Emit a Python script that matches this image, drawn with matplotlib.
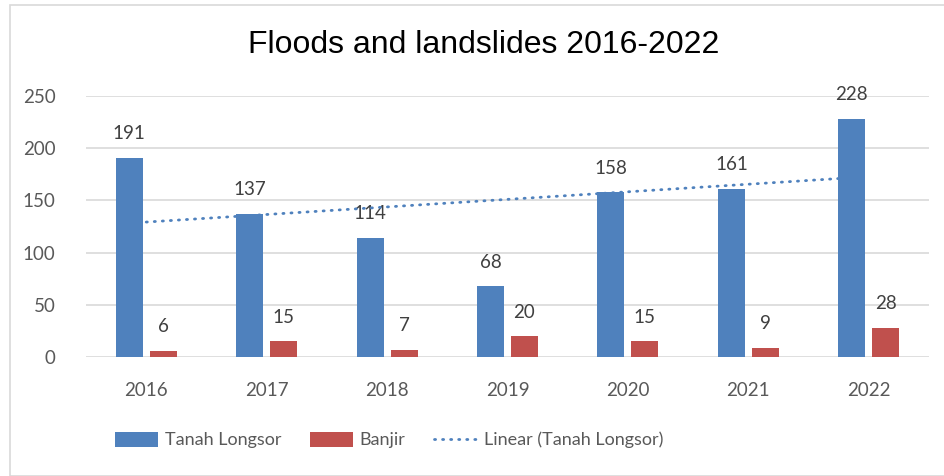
import matplotlib
matplotlib.use("Agg")
import matplotlib.pyplot as plt
from matplotlib.patches import Rectangle, Patch
from matplotlib.lines import Line2D
import numpy as np

years = ["2016", "2017", "2018", "2019", "2020", "2021", "2022"]
tanah_longsor = [191, 137, 114, 68, 158, 161, 228]
banjir = [6, 15, 7, 20, 15, 9, 28]
yticks = [0, 50, 100, 150, 200, 250]

BLUE = "#4F81BD"
RED = "#C0504D"
GRAY = "#595959"
FONT = ["Lato", "DejaVu Sans"]

W, H = 945, 476
fig = plt.figure(figsize=(W / 100, H / 100), dpi=100)
fig.patch.set_facecolor("white")

# chart border
fig.add_artist(Rectangle((10 / W, 0), (W - 10) / W, (H - 5) / H, transform=fig.transFigure,
                         fill=False, edgecolor="#D9D9D9", linewidth=1.2))

left, right, bottom, top = 86, 929, 357, 96
ax = fig.add_axes([left / W, 1 - bottom / H, (right - left) / W, (bottom - top) / H])

x = np.arange(1, len(years) + 1)
bw = 0.224
off = 0.141
ax.bar(x - off, tanah_longsor, width=bw, color=BLUE, zorder=3)
ax.bar(x + off, banjir, width=bw, color=RED, zorder=3)

# linear trendline
DOT = (0, (0.4, 2.5))
slope, intercept = np.polyfit(x, tanah_longsor, 1)
ax.plot(x, slope * x + intercept, linestyle=DOT, color=BLUE, linewidth=2.0,
        dash_capstyle="round", zorder=4)

for xi, v in zip(x - off, tanah_longsor):
    ax.annotate(str(v), (xi, v), xytext=(0, 24), textcoords="offset pixels",
                ha="center", va="center", fontsize=13.5, color="#404040", family=FONT)
for xi, v in zip(x + off, banjir):
    ax.annotate(str(v), (xi, v), xytext=(0, 24), textcoords="offset pixels",
                ha="center", va="center", fontsize=13.5, color="#404040", family=FONT)

ax.set_xlim(0.5, len(years) + 0.5)
ax.set_ylim(0, 250)
ax.set_yticks(yticks)
ax.set_yticklabels([str(t) for t in yticks], fontsize=13.5, color=GRAY, family=FONT)
ax.set_xticks(x)
ax.set_xticklabels(years, fontsize=13.5, color=GRAY, family=FONT)
ax.tick_params(axis="both", length=0)
ax.tick_params(axis="y", pad=22)
ax.tick_params(axis="x", pad=18)
ax.grid(axis="y", color="#D9D9D9", linewidth=1.2, zorder=0)
for s in ax.spines.values():
    s.set_visible(False)

fig.text(484 / W, 1 - 45 / H, "Floods and landslides 2016-2022", ha="center", va="center",
         fontsize=23, color="black", family=["Liberation Sans", "DejaVu Sans"])

handles = [Patch(facecolor=BLUE), Patch(facecolor=RED),
           Line2D([0], [0], color=BLUE, linestyle=DOT, linewidth=2.0, dash_capstyle="round")]
labels = ["Tanah Longsor", "Banjir", "Linear (Tanah Longsor)"]
fig.legend(handles, labels, loc="center left", bbox_to_anchor=(115 / W, 1 - 440 / H), ncol=3,
           frameon=False, prop={"family": FONT, "size": 13}, labelcolor=GRAY, borderpad=0,
           borderaxespad=0, handlelength=2.4, handleheight=0.9, handletextpad=0.35,
           columnspacing=1.6)

fig.savefig("out.png", dpi=100, facecolor="white")
